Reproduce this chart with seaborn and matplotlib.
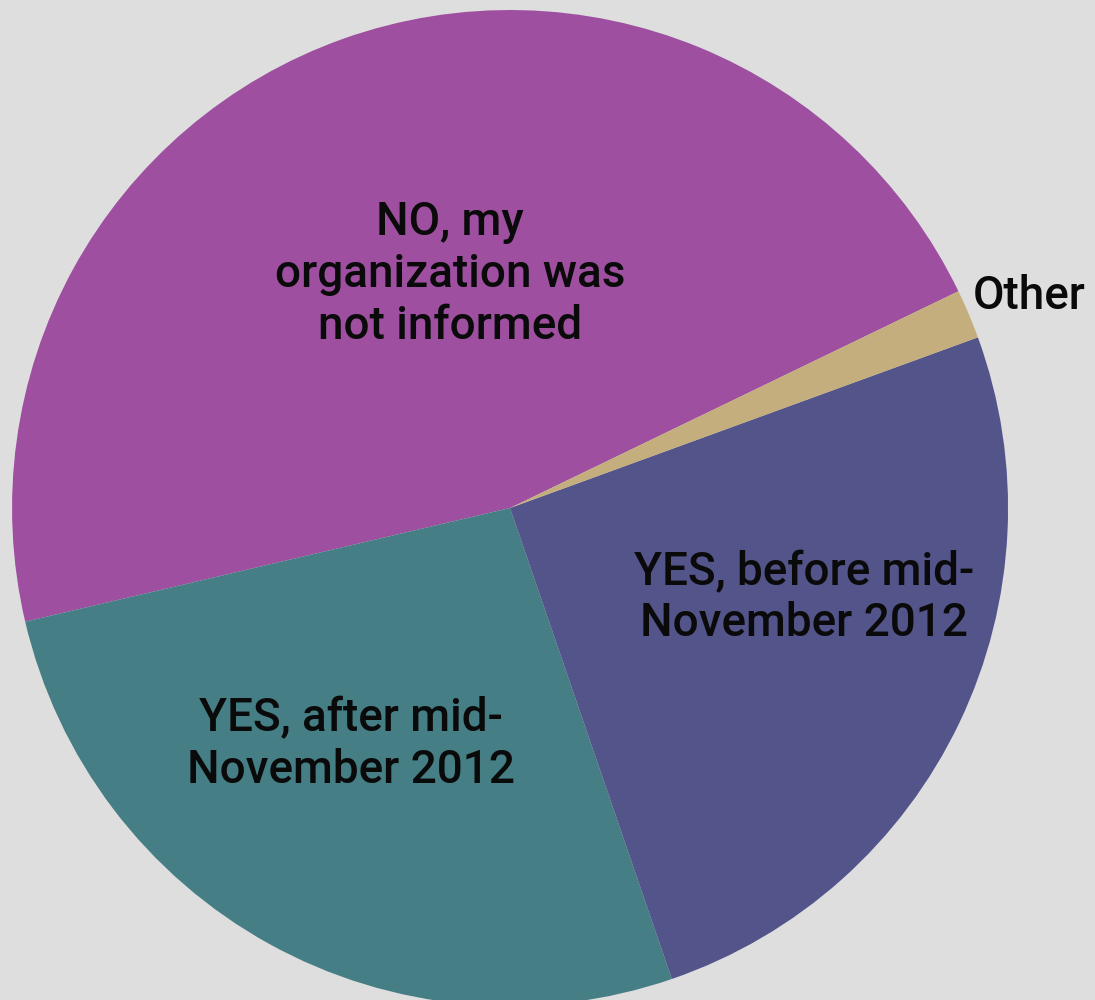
import numpy as np
import matplotlib.pyplot as plt
import seaborn as sns

# ── Dados ────────────────────────────────────────────────────────────────────
categorias = ["NO, my\norganization was\nnot informed",
              "YES, after mid-\nNovember 2012",
              "YES, before mid-\nNovember 2012",
              "Other"]
valores = [46.5, 26.6, 25.3, 1.6]
cores = ["#9E4FA0", "#457E84", "#53548A", "#C4AE7D"]

# posição dos rótulos (coordenadas relativas ao raio)
rotulo_x = [-0.12, -0.32, 0.59, 0.93]
rotulo_y = [0.47, -0.475, -0.18, 0.425]
rotulo_ha = ["center", "center", "center", "left"]

BG = "#DEDEDE"

sns.set_theme(style="white")
plt.rcParams["font.family"] = ["Roboto", "DejaVu Sans"]

fig = plt.figure(figsize=(10.95, 10), dpi=100, facecolor=BG)
ax = fig.add_axes([0.011, -0.006, 0.9096, 0.996])
ax.set_facecolor(BG)

wedges, _ = ax.pie(valores, colors=sns.color_palette(cores), startangle=25.8,
                   counterclock=True, radius=1,
                   wedgeprops=dict(edgecolor="none", linewidth=0))
ax.set_xlim(-1, 1)
ax.set_ylim(-1, 1)
ax.set_aspect("equal")
ax.axis("off")

for txt, x, y, ha in zip(categorias, rotulo_x, rotulo_y, rotulo_ha):
    ax.text(x, y, txt, ha=ha, va="center", fontsize=33, fontweight="medium",
            color="#0A0A0A", linespacing=1.22, clip_on=False)

plt.savefig("out.png", dpi=100, facecolor=BG)
